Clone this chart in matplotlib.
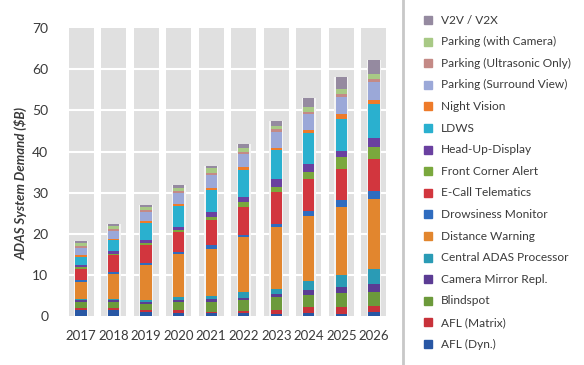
import matplotlib.pyplot as plt
from matplotlib.patches import Rectangle
import numpy as np

plt.rcParams['font.family'] = ['Lato', 'DejaVu Sans']

years = ['2017', '2018', '2019', '2020', '2021', '2022', '2023', '2024', '2025', '2026']

# stack order: bottom to top
categories = ['AFL (Dyn.)', 'AFL (Matrix)', 'Blindspot', 'Camera Mirror Repl.',
              'Central ADAS Processor', 'Distance Warning', 'Drowsiness Monitor',
              'E-Call Telematics', 'Front Corner Alert', 'Head-Up-Display', 'LDWS',
              'Night Vision', 'Parking (Surround View)', 'Parking (Ultrasonic Only)',
              'Parking (with Camera)', 'V2V / V2X']

afl_dyn = [1.6, 1.6, 1.05, 0.8, 0.65, 0.65, 0.6, 0.65, 0.6, 1.0]
afl_matrix = [0.3, 0.3, 0.4, 0.65, 0.4, 0.55, 0.8, 1.6, 1.6, 1.4]
blindspot = [1.5, 1.5, 1.6, 2.0, 2.4, 2.7, 3.2, 2.8, 3.4, 3.5]
camera_mirror = [0.4, 0.4, 0.4, 0.55, 0.65, 0.55, 0.65, 1.2, 1.5, 2.0]
central_adas = [0.4, 0.4, 0.55, 0.65, 0.8, 1.3, 1.4, 2.4, 2.8, 3.6]
distance_warning = [4.1, 6.1, 8.4, 10.5, 11.5, 13.5, 15.0, 15.8, 16.6, 17.0]
drowsiness = [0.4, 0.4, 0.4, 0.4, 0.8, 0.55, 0.65, 1.05, 1.8, 2.0]
ecall = [2.8, 4.1, 4.5, 4.9, 6.1, 6.7, 7.9, 7.9, 7.5, 7.7]
front_corner = [0.4, 0.4, 0.55, 0.4, 0.8, 1.2, 1.2, 1.6, 2.8, 2.8]
hud = [0.55, 0.55, 0.65, 0.8, 1.2, 1.2, 2.0, 1.9, 1.6, 2.3]
ldws = [1.9, 2.7, 4.1, 5.0, 5.3, 6.5, 6.9, 7.5, 7.7, 8.3]
night_vision = [0.55, 0.4, 0.4, 0.65, 0.55, 0.8, 0.65, 0.8, 1.2, 1.0]
park_surround = [1.6, 1.8, 2.2, 2.6, 3.1, 3.2, 3.8, 3.9, 4.1, 4.3]
park_ultrasonic = [0.65, 0.5, 0.5, 0.4, 0.65, 0.4, 0.8, 0.6, 0.8, 0.8]
park_camera = [0.65, 0.8, 0.8, 0.9, 1.0, 1.0, 0.6, 1.2, 1.2, 1.05]
v2x = [0.55, 0.55, 0.55, 0.55, 0.65, 1.05, 1.3, 2.0, 2.8, 3.4]

series = [afl_dyn, afl_matrix, blindspot, camera_mirror, central_adas, distance_warning,
          drowsiness, ecall, front_corner, hud, ldws, night_vision, park_surround,
          park_ultrasonic, park_camera, v2x]

colors = ['#2857a4', '#c8323a', '#6c9a3b', '#5b3c94', '#2a9bb5', '#e2862e',
          '#2f6cbf', '#d2363e', '#7aa83d', '#6a40a0', '#2ab0cf', '#ee7b2a',
          '#9ba8d8', '#c48a86', '#a8c985', '#958aa0']

fig = plt.figure(figsize=(5.84, 3.65), dpi=100)
ax = fig.add_axes([0.111, 0.134, 0.557, 0.789])

x = np.arange(len(years))

# gray background columns
ax.bar(x, 70, width=0.77, color='#e0e0e0', zorder=0)
for g in range(10, 70, 10):
    ax.axhline(g, color='white', lw=1.5, zorder=1)

bottom = np.zeros(len(years))
for vals, c in zip(series, colors):
    ax.bar(x, vals, width=0.35, bottom=bottom, color=c, edgecolor='none', zorder=3)
    bottom += np.array(vals)

# faint white halo around bars
ax.bar(x, bottom, width=0.43, color='#f4f4f4', zorder=2)

ax.set_xlim(-0.5, 9.5)
ax.set_ylim(0, 70)
ax.set_yticks(range(0, 71, 10))
ax.set_xticks(x)
ax.set_xticklabels(years)
for s in ax.spines.values():
    s.set_visible(False)
ax.tick_params(length=0, labelsize=10, colors='#3a3a3a')
ax.tick_params(axis='y', pad=12)
ax.tick_params(axis='x', pad=10, labelsize=9.5)
ax.set_ylabel('ADAS System Demand (\\$B)', fontsize=9.5, fontweight='bold',
              fontstyle='italic', color='#3a3a3a')
ax.yaxis.set_label_coords(-0.115, 0.46)

# divider
fig.add_artist(plt.Line2D([0.69, 0.69], [0.0, 1.0], color='#c8c8c8', lw=2))

# legend, top to bottom
y0 = 1 - 20 / 365
step = 21.6 / 365
for i, (lab, c) in enumerate(zip(categories[::-1], colors[::-1])):
    yy = y0 - i * step
    fig.add_artist(Rectangle((424 / 584, yy - 4 / 365), 8 / 584, 8 / 365,
                             color=c, transform=fig.transFigure))
    fig.text(441 / 584, yy, lab, fontsize=8.6, color='#3a3a3a', va='center', ha='left')

fig.savefig('out.png', dpi=100)
